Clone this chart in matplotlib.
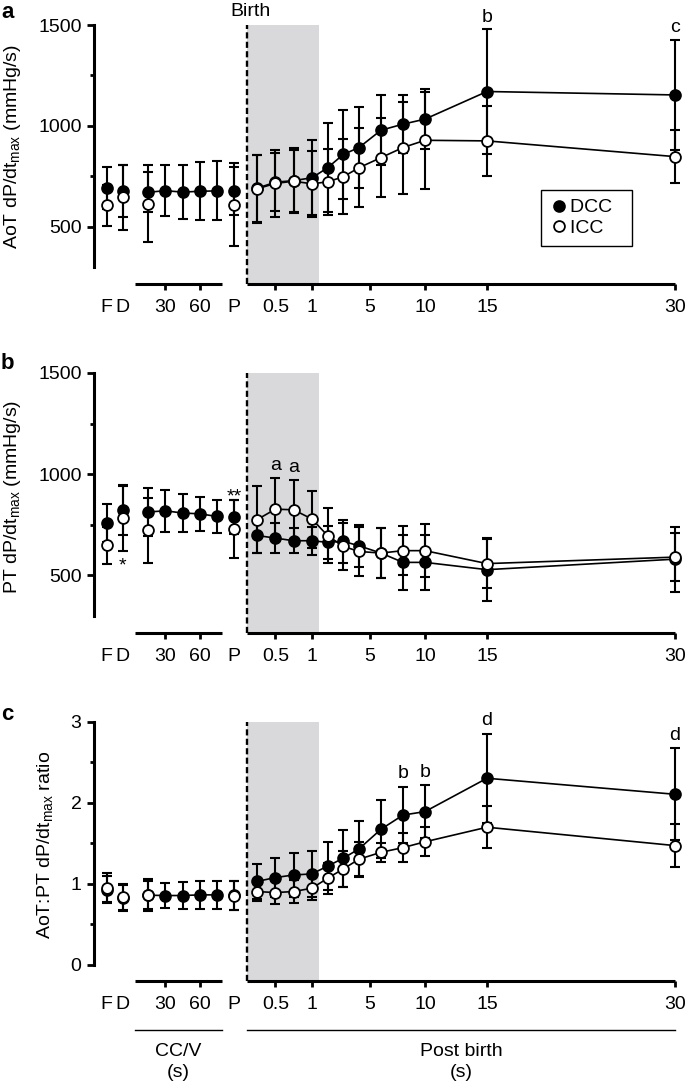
import numpy as np
import matplotlib
matplotlib.use('Agg')
import matplotlib.pyplot as plt
from matplotlib import transforms
from matplotlib.lines import Line2D

plt.rcParams['font.family'] = ['Liberation Sans', 'DejaVu Sans']
plt.rcParams['mathtext.fontset'] = 'custom'
plt.rcParams['mathtext.rm'] = 'Liberation Sans'
plt.rcParams['mathtext.it'] = 'Liberation Sans:italic'
plt.rcParams['mathtext.bf'] = 'Liberation Sans:bold'

# ---------------- data ----------------
pre_labels = ['F', 'D']
ccv_times = [15, 30, 45, 60, 75]
icc_ccv_times = [15]
post_times = [0.25, 0.5, 0.75, 1, 2, 3, 4, 6, 8, 10, 15, 30]

# Panel a: AoT dP/dt max
a_dcc_pre = [690, 675];  a_dcc_pre_err = [105, 130]
a_dcc_ccv = [670, 678, 671, 675, 677];  a_dcc_ccv_err = [100, 125, 132, 143, 146]
a_dcc_p = 677;  a_dcc_p_err = 120
a_dcc_post = [690, 720, 728, 742, 792, 858, 892, 978, 1008, 1033, 1170, 1153]
a_dcc_post_err = [165, 145, 160, 185, 220, 222, 200, 175, 145, 150, 308, 272]
a_icc_pre = [605, 645];  a_icc_pre_err = [100, 160]
a_icc_ccv = [613];  a_icc_ccv_err = [190]
a_icc_p = 608;  a_icc_p_err = 205
a_icc_post = [687, 714, 725, 712, 722, 747, 792, 842, 892, 928, 925, 847]
a_icc_post_err = [170, 168, 155, 165, 165, 185, 197, 197, 228, 240, 175, 131]

# Panel b: PT dP/dt max
b_dcc_pre = [758, 821];  b_dcc_pre_err = [94, 120]
b_dcc_ccv = [813, 819, 808, 804, 791];  b_dcc_ccv_err = [120, 105, 93, 83, 80]
b_dcc_p = 788;  b_dcc_p_err = 85
b_dcc_post = [697, 684, 671, 671, 663, 668, 646, 610, 564, 564, 528, 580]
b_dcc_post_err = [85, 75, 63, 70, 80, 107, 104, 125, 135, 135, 156, 160]
b_icc_pre = [648, 783];  b_icc_pre_err = [92, 165]
b_icc_ccv = [722];  b_icc_ccv_err = [160]
b_icc_p = 729;  b_icc_p_err = 145
b_icc_post = [775, 827, 824, 778, 696, 643, 618, 610, 622, 622, 558, 590]
b_icc_post_err = [167, 153, 145, 141, 136, 115, 120, 125, 120, 130, 120, 117]

# Panel c: AoT:PT ratio
c_dcc_pre = [0.93, 0.83];  c_dcc_pre_err = [0.17, 0.16]
c_dcc_ccv = [0.86, 0.856, 0.856, 0.864, 0.864];  c_dcc_ccv_err = [0.17, 0.155, 0.17, 0.17, 0.17]
c_dcc_p = 0.86;  c_dcc_p_err = 0.18
c_dcc_post = [1.03, 1.078, 1.11, 1.123, 1.22, 1.317, 1.432, 1.675, 1.85, 1.893, 2.305, 2.107]
c_dcc_post_err = [0.22, 0.24, 0.27, 0.28, 0.3, 0.35, 0.35, 0.36, 0.35, 0.33, 0.55, 0.57]
c_icc_pre = [0.955, 0.843];  c_icc_pre_err = [0.18, 0.16]
c_icc_ccv = [0.864];  c_icc_ccv_err = [0.2]
c_icc_p = 0.856;  c_icc_p_err = 0.18
c_icc_post = [0.905, 0.893, 0.905, 0.947, 1.07, 1.185, 1.305, 1.39, 1.448, 1.52, 1.70, 1.473]
c_icc_post_err = [0.12, 0.14, 0.14, 0.15, 0.19, 0.22, 0.21, 0.12, 0.18, 0.18, 0.26, 0.27]

ccv_tick_vals = [30, 60]
post_tick_vals = [0.5, 1, 5, 10, 15, 30]

# ---------------- x scale (broken, piecewise) ----------------
# pre-birth section: linear in CC/V seconds; F, D and P sit at fixed slots
PRE_SLOT = {'F': -21, 'D': -7, 'P': 90}
CCV_SPAN = (4, 79)
def x_pre(t):
    return 148 + 1.15 * (np.asarray(t, float) - 15)

POST_KNOT_T = [0, 0.25, 1, 4, 10, 15, 30]
POST_KNOT_X = [247, 257, 312, 359, 425, 487, 675]
def x_post(t):
    return np.interp(np.asarray(t, float), POST_KNOT_T, POST_KNOT_X)

SHADE_END = 1.45

W, H = 685, 1083
fig = plt.figure(figsize=(W / 100, H / 100), dpi=100)

def fig_axes(top, bottom):
    return fig.add_axes([94 / W, 1 - bottom / H, (685 - 94) / W, (bottom - top) / H])

FS = 14
ERR_KW = dict(fmt='none', ecolor='k', elinewidth=1.5, capsize=3.4, capthick=1.5, zorder=2)
MS = 7.8

def draw_series(ax, xs, ys, es, filled, connect):
    ax.errorbar(xs, ys, yerr=es, **ERR_KW)
    if connect:
        ax.plot(xs, ys, '-', color='k', lw=1.2, zorder=3)
    ax.plot(xs, ys, 'o', ls='none', ms=MS, mew=1.3, mec='k',
            mfc='k' if filled else 'white', zorder=4 if filled else 5)

def panel(ax, d, ylim, spine_lo, ytop, major, minor):
    (dpre, dpre_e, dccv, dccv_e, dp, dp_e, dpost, dpost_e,
     ipre, ipre_e, iccv, iccv_e, ip, ip_e, ipost, ipost_e) = d
    xF = x_pre([PRE_SLOT[k] for k in pre_labels])
    xP = x_pre(PRE_SLOT['P'])
    for k in range(len(pre_labels)):
        draw_series(ax, [xF[k]], [dpre[k]], [dpre_e[k]], True, False)
        draw_series(ax, [xF[k]], [ipre[k]], [ipre_e[k]], False, False)
    draw_series(ax, x_pre(ccv_times), dccv, dccv_e, True, True)
    draw_series(ax, x_pre(icc_ccv_times), iccv, iccv_e, False, True)
    draw_series(ax, [xP], [dp], [dp_e], True, False)
    draw_series(ax, [xP], [ip], [ip_e], False, False)
    draw_series(ax, x_post(post_times), dpost, dpost_e, True, True)
    draw_series(ax, x_post(post_times), ipost, ipost_e, False, True)

    ax.set_xlim(94, 685)
    ax.set_ylim(*ylim)
    ax.axvspan(x_post(0), x_post(SHADE_END), color='#d9d9db', lw=0, zorder=0)
    ax.axvline(x_post(0), color='k', lw=1.7, ls=(0, (2.6, 1.4)), zorder=1)

    for s in ['top', 'right', 'bottom']:
        ax.spines[s].set_visible(False)
    ax.spines['left'].set_linewidth(2.2)
    ax.spines['left'].set_bounds(spine_lo, ytop)
    ax.set_yticks(major)
    ax.set_yticks(minor, minor=True)
    ax.tick_params(axis='y', which='major', length=5, width=2, labelsize=FS, pad=4)
    ax.tick_params(axis='y', which='minor', length=3, width=2)

    xt = list(xF) + list(x_pre(ccv_tick_vals)) + [xP] + list(x_post(post_tick_vals))
    xl = pre_labels + [str(v) for v in ccv_tick_vals] + ['P'] + \
         [('%g' % v) for v in post_tick_vals]
    ax.set_xticks(xt)
    ax.set_xticklabels(xl)
    ax.tick_params(axis='x', length=4, width=2, labelsize=FS, pad=6.5)
    for i, tk in enumerate(ax.xaxis.get_major_ticks()):
        if xl[i] in ('F', 'D', 'P'):
            tk.tick1line.set_visible(False)
    tr = ax.get_xaxis_transform()
    ax.plot(x_pre(CCV_SPAN), [0, 0], color='k', lw=2.2, transform=tr, clip_on=False,
            solid_capstyle='butt')
    ax.plot([x_post(0), x_post(30)], [0, 0], color='k', lw=2.2, transform=tr,
            clip_on=False, solid_capstyle='butt')

def note(ax, x, y, txt, dy, va='baseline'):
    ax.annotate(txt, xy=(x, y), xytext=(0, dy), textcoords='offset points',
                ha='center', va=va, fontsize=FS, annotation_clip=False)

# ---- panel a ----
ax_a = fig_axes(25, 284)
panel(ax_a, (a_dcc_pre, a_dcc_pre_err, a_dcc_ccv, a_dcc_ccv_err, a_dcc_p, a_dcc_p_err,
             a_dcc_post, a_dcc_post_err, a_icc_pre, a_icc_pre_err, a_icc_ccv, a_icc_ccv_err,
             a_icc_p, a_icc_p_err, a_icc_post, a_icc_post_err),
      (215, 1500), 300, 1500, [500, 1000, 1500], [750, 1250])
xpost = x_post(post_times)
for i, t in [(10, 'b'), (11, 'c')]:
    note(ax_a, xpost[i], a_dcc_post[i] + a_dcc_post_err[i], t, 5.5)
fig.text(x_post(0) / W + 0.005, 1 - 16 / H, 'Birth', ha='center', va='baseline', fontsize=FS)
leg_handles = [Line2D([], [], marker='o', ls='none', ms=MS, mew=1.3, mec='k', mfc='k'),
               Line2D([], [], marker='o', ls='none', ms=MS, mew=1.3, mec='k', mfc='white')]
leg = fig.legend(leg_handles, ['DCC  ', 'ICC  '], loc='upper left',
                 bbox_to_anchor=(541 / W, 1 - 190 / H), fontsize=FS, frameon=True,
                 fancybox=False, edgecolor='k', framealpha=1, borderpad=0.45,
                 handletextpad=0.15, labelspacing=0.15, handlelength=0.9,
                 borderaxespad=0)
leg.get_frame().set_linewidth(1.0)

# ---- panel b ----
ax_b = fig_axes(373, 633)
panel(ax_b, (b_dcc_pre, b_dcc_pre_err, b_dcc_ccv, b_dcc_ccv_err, b_dcc_p, b_dcc_p_err,
             b_dcc_post, b_dcc_post_err, b_icc_pre, b_icc_pre_err, b_icc_ccv, b_icc_ccv_err,
             b_icc_p, b_icc_p_err, b_icc_post, b_icc_post_err),
      (215, 1500), 300, 1500, [500, 1000, 1500], [750, 1250])
for i in [1, 2]:
    note(ax_b, xpost[i], b_icc_post[i] + b_icc_post_err[i], 'a', 6)
xD = x_pre(PRE_SLOT['D'])
note(ax_b, xD, b_icc_pre[1] - b_icc_pre_err[1], '*', -14)
note(ax_b, x_pre(PRE_SLOT['P']), b_dcc_p + b_dcc_p_err, '**', -1)

# ---- panel c ----
ax_c = fig_axes(722, 981)
panel(ax_c, (c_dcc_pre, c_dcc_pre_err, c_dcc_ccv, c_dcc_ccv_err, c_dcc_p, c_dcc_p_err,
             c_dcc_post, c_dcc_post_err, c_icc_pre, c_icc_pre_err, c_icc_ccv, c_icc_ccv_err,
             c_icc_p, c_icc_p_err, c_icc_post, c_icc_post_err),
      (-0.2, 3), 0, 3, [0, 1, 2, 3], [0.5, 1.5, 2.5])
for i, t in [(8, 'b'), (9, 'b'), (10, 'd'), (11, 'd')]:
    note(ax_c, xpost[i], c_dcc_post[i] + c_dcc_post_err[i], t, 6)

# group labels under panel c
btr = transforms.blended_transform_factory(ax_c.transData, fig.transFigure)
yl = 1 - 1030 / H
ax_c.plot(x_pre(CCV_SPAN), [yl, yl], color='k', lw=1.0, transform=btr, clip_on=False)
ax_c.plot([x_post(0), x_post(30)], [yl, yl], color='k', lw=1.0, transform=btr, clip_on=False)
xm1 = x_pre(np.mean(CCV_SPAN))
xm2 = (x_post(0) + x_post(30)) / 2
for xm, t1 in [(xm1, 'CC/V'), (xm2, 'Post birth')]:
    ax_c.text(xm, 1 - 1056 / H, t1, transform=btr, ha='center', va='baseline', fontsize=FS)
    ax_c.text(xm, 1 - 1077 / H, '(s)', transform=btr, ha='center', va='baseline', fontsize=FS)

# y labels
fig.text(13 / W, 1 - 147 / H, r'AoT dP/dt$_{\mathregular{max}}$ (mmHg/s)', rotation=90,
         ha='center', va='center', fontsize=FS)
fig.text(13 / W, 1 - 497 / H, r'PT dP/dt$_{\mathregular{max}}$ (mmHg/s)', rotation=90,
         ha='center', va='center', fontsize=FS)
fig.text(45 / W, 1 - 845 / H, r'AoT:PT dP/dt$_{\mathregular{max}}$ ratio', rotation=90,
         ha='center', va='center', fontsize=FS)

# panel letters
for lab, yb in [('a', 18), ('b', 369), ('c', 720)]:
    fig.text(1 / W, 1 - yb / H, lab, fontsize=16, fontweight='bold', ha='left', va='baseline')

fig.savefig('out.png', dpi=100)
